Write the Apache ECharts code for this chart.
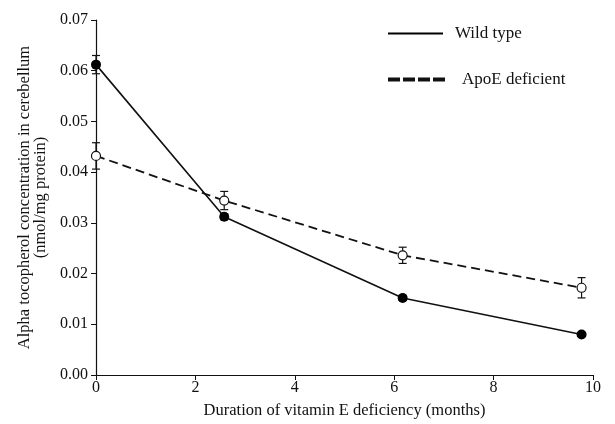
<!DOCTYPE html>
<html>
<head>
<meta charset="utf-8">
<script src="https://cdn.jsdelivr.net/npm/echarts@6/dist/echarts.min.js"></script>
<style>
  html, body { margin: 0; padding: 0; background: #fff; }
  #chart { width: 615px; height: 424px; }
</style>
</head>
<body>
<div id="chart"></div>
<script>
// months (as plotted)
const months = [0, 2.58, 6.17, 9.77]
const wildType = [0.0612, 0.0312, 0.0152, 0.0080]
const wildErr = [0.0018, 0.0006, 0.0005, 0.0004]
const apoE = [0.0432, 0.0344, 0.0236, 0.0172]
const apoEErr = [0.0026, 0.0018, 0.0016, 0.0020]
const xTicks = [0, 2, 4, 6, 8, 10]
const yTicks = [0, 0.01, 0.02, 0.03, 0.04, 0.05, 0.06, 0.07]

const font = 'Liberation Serif'

function errData (vals, errs) {
  return months.map((m, i) => [m, vals[i] - errs[i], vals[i] + errs[i]])
}

function renderErr (params, api) {
  const lo = api.coord([api.value(0), api.value(1)])
  const hi = api.coord([api.value(0), api.value(2)])
  const w = 4
  const st = { stroke: '#111', lineWidth: 1.2 }
  return {
    type: 'group',
    children: [
      { type: 'line', shape: { x1: lo[0], y1: lo[1], x2: hi[0], y2: hi[1] }, style: st },
      { type: 'line', shape: { x1: lo[0] - w, y1: lo[1], x2: lo[0] + w, y2: lo[1] }, style: st },
      { type: 'line', shape: { x1: hi[0] - w, y1: hi[1], x2: hi[0] + w, y2: hi[1] }, style: st }
    ]
  }
}

const myChart = echarts.init(document.getElementById('chart'))
const option = {
  animation: false,
  textStyle: { fontFamily: font },
  grid: { left: 96, right: 22, top: 20, bottom: 47 },
  legend: [
    {
      data: [{ name: 'Wild type', icon: 'path://M0,0h55v2h-55z' }],
      left: 388, top: 25, padding: 0,
      itemWidth: 55, itemHeight: 2,
      selectedMode: false,
      textStyle: { fontFamily: font, fontSize: 17, color: '#111', padding: [0, 0, 0, 7] }
    },
    {
      data: [{ name: 'ApoE deficient', icon: 'path://M0,0h10v2h-10z M15,0h10v2h-10z M30,0h10v2h-10z M45,0h10v2h-10z' }],
      left: 388, top: 71, padding: 0,
      itemWidth: 55, itemHeight: 2,
      selectedMode: false,
      textStyle: { fontFamily: font, fontSize: 17, color: '#111', padding: [0, 0, 0, 13] }
    }
  ],
  xAxis: {
    type: 'value',
    min: xTicks[0], max: xTicks[xTicks.length - 1], interval: 2,
    name: 'Duration of vitamin E deficiency (months)',
    nameLocation: 'middle', nameGap: 27,
    nameTextStyle: { fontFamily: font, fontSize: 16.5, color: '#111' },
    axisLine: { lineStyle: { color: '#111', width: 1.2 } },
    axisTick: { show: true, length: 5, lineStyle: { color: '#111' } },
    axisLabel: { fontFamily: font, fontSize: 16, color: '#111', margin: 5 },
    splitLine: { show: false }
  },
  yAxis: {
    type: 'value',
    min: yTicks[0], max: yTicks[yTicks.length - 1], interval: 0.01,
    name: 'Alpha tocopherol concentration in cerebellum\n(nmol/mg protein)',
    nameLocation: 'middle', nameGap: 45,
    nameTextStyle: { fontFamily: font, fontSize: 16.5, color: '#111', lineHeight: 16 },
    axisLine: { show: true, lineStyle: { color: '#111', width: 1.2 } },
    axisTick: { show: true, length: 5, lineStyle: { color: '#111' } },
    axisLabel: { fontFamily: font, fontSize: 16, color: '#111', margin: 8, formatter: v => v.toFixed(2) },
    splitLine: { show: false }
  },
  series: [
    {
      type: 'custom',
      renderItem: renderErr,
      data: errData(wildType, wildErr),
      z: 1,
      silent: true
    },
    {
      type: 'custom',
      renderItem: renderErr,
      data: errData(apoE, apoEErr),
      z: 1,
      silent: true
    },
    {
      name: 'Wild type',
      type: 'line',
      data: months.map((m, i) => [m, wildType[i]]),
      symbol: 'circle', symbolSize: 10,
      itemStyle: { color: '#000' },
      lineStyle: { color: '#111', width: 1.6 },
      z: 3
    },
    {
      name: 'ApoE deficient',
      type: 'line',
      data: months.map((m, i) => [m, apoE[i]]),
      symbol: 'circle', symbolSize: 9,
      itemStyle: { color: '#fff', borderColor: '#111', borderWidth: 1.2 },
      lineStyle: { color: '#111', width: 1.8, type: [9, 5] },
      z: 3
    }
  ]
}

myChart.setOption(option)
window.addEventListener('resize', function () {
  myChart.resize()
})
</script>
</body>
</html>
